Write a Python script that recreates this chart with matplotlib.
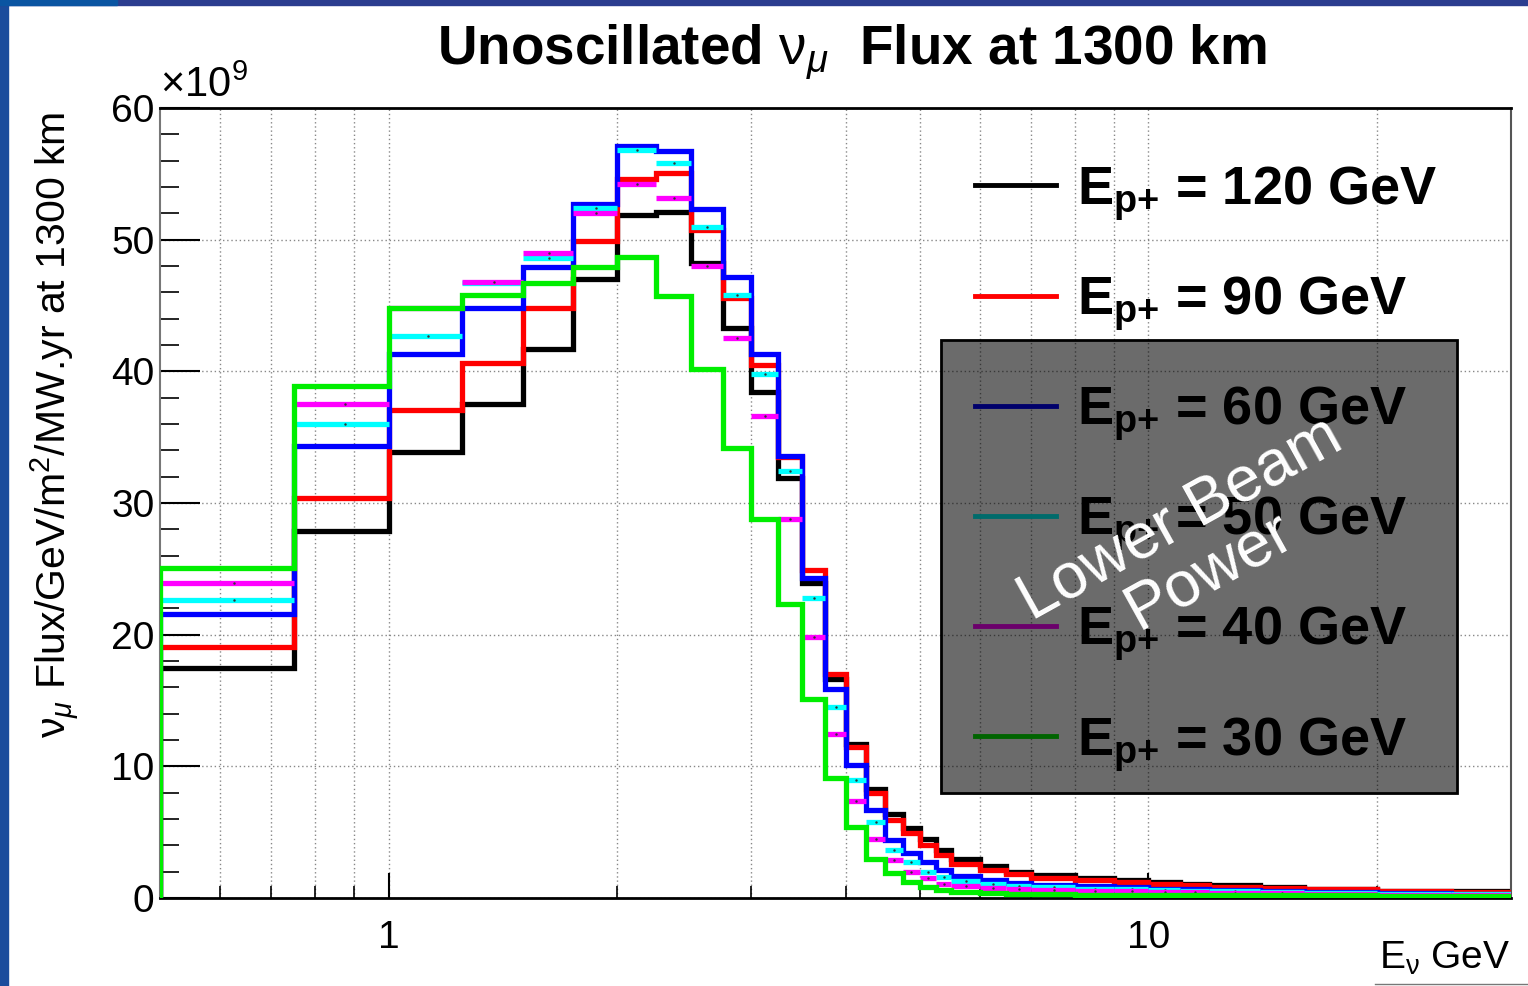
"""
Unoscillated numu flux at 1300 km for several proton beam energies.
"""
import numpy as np
import matplotlib.pyplot as plt
from matplotlib.patches import Rectangle
from matplotlib.lines import Line2D
from matplotlib.ticker import FixedLocator, NullFormatter, MultipleLocator

plt.rcParams['font.family'] = ['Liberation Sans', 'DejaVu Sans']
plt.rcParams['mathtext.fontset'] = 'custom'
plt.rcParams['mathtext.rm'] = 'Liberation Sans'
plt.rcParams['mathtext.it'] = 'Liberation Sans:italic'
plt.rcParams['mathtext.bf'] = 'Liberation Sans:bold'

# bin edges in GeV
edges = [0.5, 0.75, 1.0, 1.25, 1.5, 1.75, 2.0, 2.25, 2.5, 2.75, 3.0, 3.25, 3.5,
         3.75, 4.0, 4.25, 4.5, 4.75, 5.0, 5.25, 5.5, 6.0, 6.5, 7.0, 8.0, 9.0,
         10.0, 11.0, 12.0, 14.0, 16.0, 20.0, 25.0, 30.0]

# flux in units of 1e9 per GeV/m^2/MW.yr
flux_120 = [17.5, 27.9, 33.9, 37.5, 41.7, 47.0, 51.9, 52.1, 48.2, 43.3, 38.4,
            31.9, 23.9, 16.6, 11.7, 8.25, 6.4, 5.3, 4.45, 3.65,
            3.0, 2.4, 2.0, 1.75, 1.55, 1.35, 1.2, 1.1, 0.95, 0.8, 0.7, 0.55, 0.5]
flux_90 = [19.1, 30.4, 37.1, 40.6, 44.8, 49.9, 54.6, 55.1, 50.7, 45.6, 40.5,
           33.5, 24.9, 17.0, 11.5, 7.95, 5.9, 4.95, 4.0, 3.27,
           2.6, 2.1, 1.8, 1.55, 1.35, 1.2, 1.05, 0.95, 0.85, 0.75, 0.65, 0.5, 0.45]
flux_60 = [21.6, 34.3, 41.3, 44.8, 47.9, 52.7, 57.1, 56.7, 52.3, 47.2, 41.35,
           33.6, 24.3, 15.85, 10.1, 6.7, 4.4, 3.4, 2.75, 2.1,
           1.7, 1.35, 1.15, 1.0, 0.9, 0.8, 0.7, 0.65, 0.6, 0.5, 0.45, 0.35, 0.3]
flux_50 = [22.6, 36.0, 42.7, 46.7, 48.6, 52.4, 56.8, 55.8, 51.0, 45.8, 39.8,
           32.4, 22.8, 14.5, 8.95, 5.8, 3.65, 2.7, 2.0, 1.6,
           1.3, 1.05, 0.9, 0.8, 0.7, 0.65, 0.6, 0.55, 0.5, 0.45, 0.4, 0.3, 0.28]
flux_40 = [23.9, 37.5, 44.8, 46.75, 49.0, 52.0, 54.2, 53.2, 48.0, 42.55, 36.6,
           28.8, 19.8, 12.45, 7.4, 4.5, 2.9, 2.0, 1.5, 1.1,
           0.9, 0.75, 0.65, 0.6, 0.55, 0.5, 0.45, 0.42, 0.4, 0.35, 0.3, 0.25, 0.22]
flux_30 = [25.1, 38.9, 44.8, 45.8, 46.7, 47.9, 48.65, 45.7, 40.2, 34.15, 28.8,
           22.3, 15.1, 9.1, 5.4, 3.0, 1.9, 1.24, 0.8, 0.6,
           0.45, 0.35, 0.3, 0.28, 0.26, 0.25, 0.24, 0.23, 0.22, 0.2, 0.2, 0.18, 0.15]

labels = [r"E$_{\mathbf{p{+}}}$ = 120 GeV", r"E$_{\mathbf{p{+}}}$ = 90 GeV",
          r"E$_{\mathbf{p{+}}}$ = 60 GeV", r"E$_{\mathbf{p{+}}}$ = 50 GeV",
          r"E$_{\mathbf{p{+}}}$ = 40 GeV", r"E$_{\mathbf{p{+}}}$ = 30 GeV"]
colors = ['black', 'red', 'blue', 'cyan', 'magenta', '#00ee00']
series = [flux_120, flux_90, flux_60, flux_50, flux_40, flux_30]
# cyan and magenta are drawn ROOT "E" style: horizontal bars only
bar_style = [False, False, False, True, True, False]

x_major = [1, 10]
x_minor = [0.6, 0.7, 0.8, 0.9, 2, 3, 4, 5, 6, 7, 8, 9, 20, 30]


def main(save_path="out.png"):
    fig = plt.figure(figsize=(15.28, 9.86), dpi=100)
    ax = fig.add_axes([160 / 1528, 1 - 898 / 986, 1351 / 1528, 790 / 986])

    e = np.array(edges)
    lw = 3.8
    for i, (vals, col, bars) in enumerate(zip(series, colors, bar_style)):
        vals = np.array(vals)
        if bars:
            ax.hlines(vals, e[:-1], e[1:], colors=col, lw=lw, zorder=2 + i)
            ax.plot((e[:-1] + e[1:]) / 2, vals, ls='none', marker='.', ms=1.5,
                    color='#333333', zorder=2 + i)
        else:
            ax.stairs(vals, e, baseline=0, color=col, lw=lw, zorder=2 + i)

    ax.set_xscale('log')
    ax.set_xlim(0.5, 30)
    ax.set_ylim(0, 60)
    ax.xaxis.set_major_locator(FixedLocator(x_major))
    ax.xaxis.set_major_formatter(plt.FuncFormatter(lambda v, p: f"{v:g}"))
    ax.xaxis.set_minor_locator(FixedLocator(x_minor))
    ax.xaxis.set_minor_formatter(NullFormatter())
    ax.yaxis.set_major_locator(MultipleLocator(10))
    ax.yaxis.set_minor_locator(MultipleLocator(2))

    ax.tick_params(axis='x', which='major', direction='in', length=18, width=1.5,
                   labelsize=28, pad=16)
    ax.tick_params(axis='x', which='minor', direction='in', length=9, width=1.2)
    ax.tick_params(axis='y', which='major', direction='in', length=29, width=1.5,
                   labelsize=28, pad=4)
    ax.tick_params(axis='y', which='minor', direction='in', length=14, width=1.2)

    grid_kw = dict(color='#888888', linestyle=(0, (1, 2)), lw=1.0)
    ax.grid(True, which='both', axis='x', **grid_kw)
    ax.grid(True, which='major', axis='y', **grid_kw)
    ax.set_axisbelow(True)

    for side in ['top', 'bottom']:
        ax.spines[side].set_linewidth(2)
        ax.spines[side].set_color('black')
    ax.spines['left'].set_color('#777777')
    ax.spines['left'].set_linewidth(1.5)
    ax.spines['right'].set_color('#555555')
    ax.spines['right'].set_linestyle((0, (1, 1)))
    ax.spines['right'].set_linewidth(1.5)

    # legend
    handles = [Line2D([], [], color=c, lw=3.5) for c in colors]
    ax.legend(handles, labels, loc='upper left', bbox_to_anchor=(0.603, 0.929),
              frameon=False, prop={'weight': 'bold', 'size': 39},
              handlelength=1.5, handletextpad=0.39, labelspacing=0.95,
              borderpad=0, borderaxespad=0)

    # grey box over the lower beam power entries
    ax.add_patch(Rectangle((0.578, 0.133), 0.382, 0.573, transform=ax.transAxes,
                           facecolor='black', alpha=0.58, edgecolor='none',
                           zorder=10, clip_on=False))
    ax.add_patch(Rectangle((0.578, 0.133), 0.382, 0.573, transform=ax.transAxes,
                           facecolor='none', edgecolor='black', lw=2,
                           zorder=10, clip_on=False))
    fig.text(1195 / 1528, 1 - 545 / 986, "Lower Beam\nPower", color='white',
             fontsize=46, rotation=29, ha='center', va='center',
             multialignment='center', linespacing=1.0, zorder=11)

    ax.text(0.0, 1.003, r"$\times$10$^{9}$", transform=ax.transAxes,
            ha='left', va='bottom', fontsize=30)

    fig.text(852 / 1528, 1 - 53 / 986,
             r"Unoscillated $\mathrm{\nu}_{\mu}$  Flux at 1300 km",
             ha='center', va='center', fontsize=39.5, fontweight='bold')
    fig.text(55 / 1528, 1 - 425 / 986,
             r"$\mathrm{\nu}_{\mu}$ Flux/GeV/m$^{2}$/MW.yr at 1300 km",
             rotation=90, ha='center', va='center', fontsize=29.5)
    fig.text(1510 / 1528, 1 - 958 / 986, r"E$_{\mathrm{\nu}}$ GeV", ha='right',
             va='center', fontsize=28)

    # slide frame
    fig.patches.append(Rectangle((0, 0), 8 / 1528, 1, transform=fig.transFigure,
                                 color='#1b4c9c', zorder=0))
    fig.patches.append(Rectangle((0, 1 - 5 / 986), 1, 5 / 986,
                                 transform=fig.transFigure, color='#2b3d8f'))
    fig.patches.append(Rectangle((0, 1 - 5 / 986), 117 / 1528, 5 / 986,
                                 transform=fig.transFigure, color='#0a55a2'))
    fig.lines.append(Line2D([1375 / 1528, 1], [1 - 984 / 986] * 2,
                            transform=fig.transFigure, color='#777777', lw=1))

    fig.savefig(save_path, dpi=100)
    plt.close(fig)


if __name__ == "__main__":
    main()
